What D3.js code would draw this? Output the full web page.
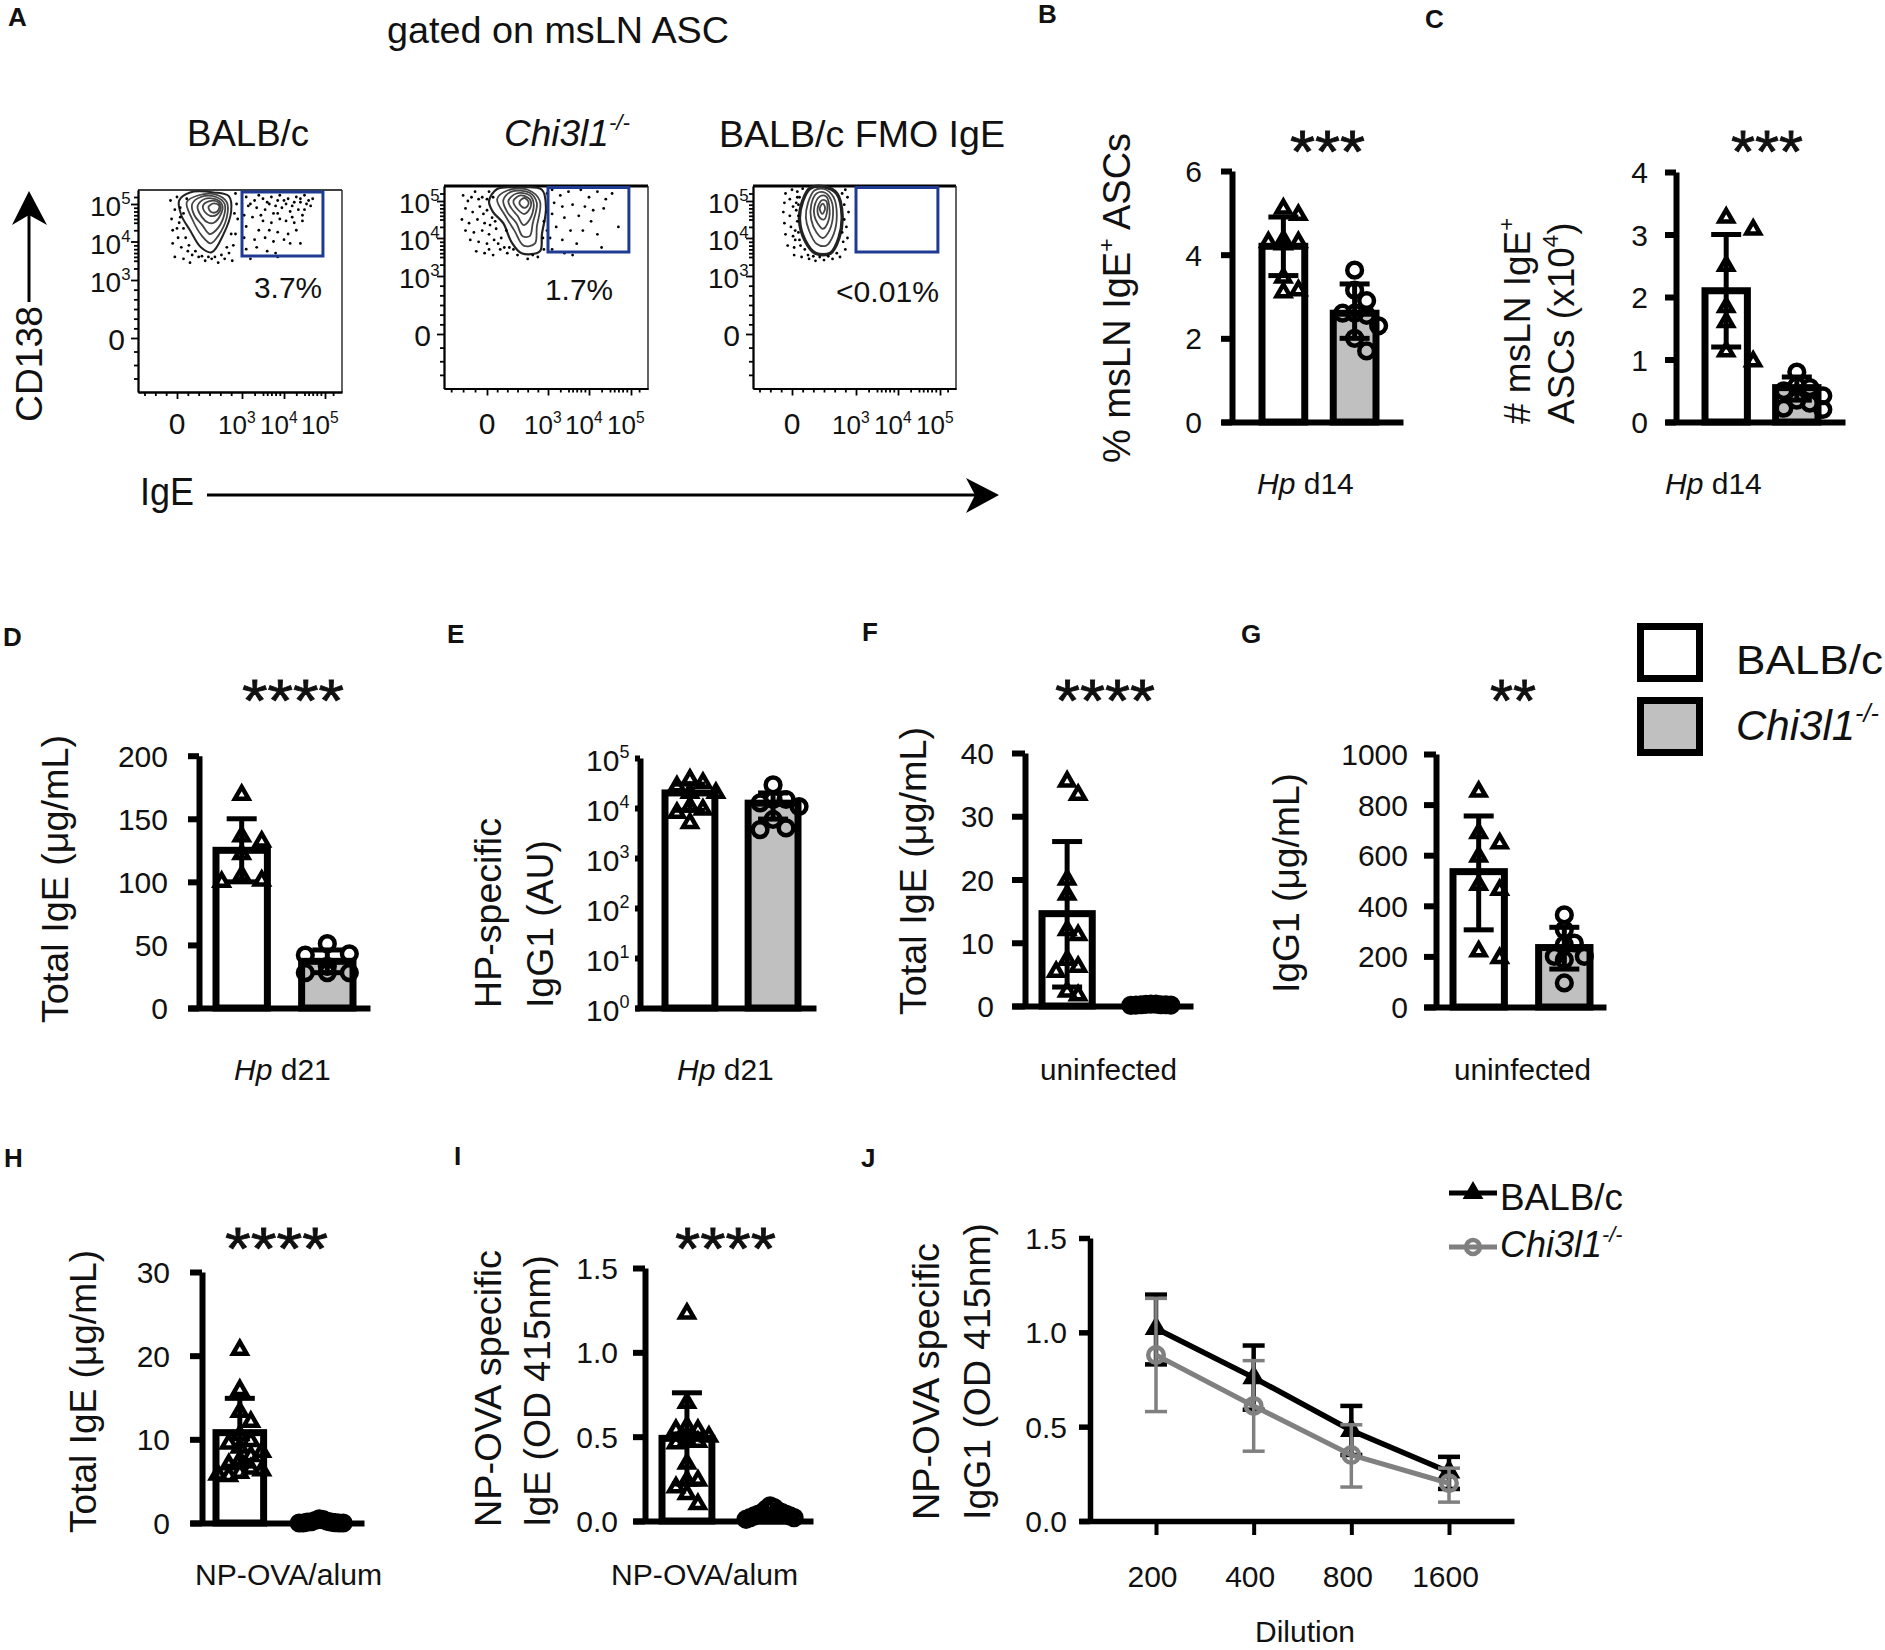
<!DOCTYPE html>
<html><head><meta charset="utf-8">
<script src="https://cdn.jsdelivr.net/npm/d3@7"></script>
<style>html,body{margin:0;background:#fff;overflow:hidden}text{font-family:"Liberation Sans",Arial,sans-serif;fill:#111}</style>
</head><body><svg id="c" width="1885" height="1650" viewBox="0 0 1885 1650"></svg>
<script>
// ---------- data ----------
const groups=["BALB/c","Chi3l1-/-"];
const bMean=[4.2,2.6], bErr=[[3.5,4.9],[2.0,3.3]];
const bTri=[5.1,4.95,4.35,4.3,4.25,4.3,3.45,3.15,3.1];
const bCir=[3.63,3.15,2.9,2.6,2.6,2.55,2.3,2.0,1.7];
const cMean=[2.1,0.55], cErr=[[1.2,3.0],[0.35,0.72]];
const cTri=[3.27,3.08,2.5,1.84,1.6,1.13,0.97];
const cCir=[0.8,0.58,0.55,0.5,0.42,0.35,0.3,0.22,0.2];
const dMean=[125,37], dErr=[[100,150],[28,46]];
const dTri=[169,136,132,122,105,101,100];
const dCir=[51,43,42,33,28,28,28];
const eMean=[20000,12500], eErr=[[9000,30000],[6000,20000]];
const eTri=[37000,32000,27000,20000,20000,10700,9300,8000,5000];
const eCir=[29000,14800,14800,12600,10700,5900,4000,3700];
const fMean=[14.6,0.2], fErr=[[3,26],[0.1,0.3]];
const fTri=[35.5,33.4,20,17.6,12,11.2,7.3,6.2,5.4,2.3,1.7];
const fCir=[0.3,0.3,0.25,0.2,0.2,0.2,0.15,0.15,0.1];
const gMean=[535,235], gErr=[[305,755],[150,315]];
const gTri=[851,687,647,595,483,463,220,193];
const gCir=[364,305,253,246,200,200,187,95];
const hMean=[10.8,0.2], hErr=[[6.8,14.9],[0.05,0.4]];
const hTri=[20.7,15.9,13.3,12.1,10.5,9.8,9.5,9,8.5,8,7.5,7,6.5,6.3,6,5.8,5.6];
const hCir=[0.5,0.4,0.3,0.2,0.15,0.1,0.1,0.05,0,0,0,0];
const iMean=[0.49,0.04], iErr=[[0.22,0.76],[0.02,0.07]];
const iTri=[1.23,0.7,0.56,0.54,0.54,0.5,0.48,0.47,0.46,0.34,0.24,0.24,0.2,0.16,0.1];
const iCir=[0.09,0.08,0.07,0.06,0.05,0.05,0.04,0.04,0.03,0.03,0.02,0.02,0.01];
const dilutions=["200","400","800","1600"];
const jBalb=[1.02,0.76,0.48,0.26], jBalbLo=[0.83,0.59,0.35,0.17], jBalbHi=[1.2,0.93,0.61,0.34];
const jChi=[0.88,0.61,0.35,0.2], jChiLo=[0.58,0.37,0.18,0.1], jChiHi=[1.18,0.85,0.51,0.28];
const flowPercents=["3.7%","1.7%","<0.01%"];
// flow events: [IgE decade, CD138 decade]
const flow1Gate=[[3.1,5.2],[3.3,5.1],[3.4,5.25],[3.6,5.05],[3.7,5.2],[3.8,4.95],[3.9,5.25],[4.0,5.1],[4.1,5.15],[4.2,4.95],[4.3,5.2],[4.4,5.05],[4.5,5.25],[4.6,5.1],[4.65,4.95],[4.5,4.85],[4.35,4.85],[4.15,4.8],[3.95,4.9],[3.75,4.75],[3.55,4.85],[3.35,4.9],[3.15,4.95],[3.05,4.7],[3.25,4.65],[3.5,4.55],[3.7,4.5],[3.9,4.6],[4.05,4.55],[4.25,4.5],[4.45,4.55],[3.1,4.4],[3.4,4.3],[3.65,4.3],[3.85,4.25],[4.1,4.2],[4.3,4.3],[3.05,4.1],[3.3,4.05],[3.55,4.1],[3.75,4.0],[4.0,4.05],[4.15,3.95],[4.4,3.95],[3.1,3.8],[3.35,3.85],[3.6,3.75],[3.8,3.7],[3.85,3.6],[3.2,3.55],
[3.2,5.0],[3.5,5.15],[3.65,5.0],[3.85,5.1],[4.05,5.0],[4.25,5.05],[4.4,5.15],[4.55,5.0],[4.7,5.15],[3.45,4.7],[3.85,4.75],[4.2,4.65],[4.45,4.7]];
const flow1Left=[[-0.3,5.1],[0,5.2],[-0.1,4.85],[0.15,4.9],[-0.25,4.6],[0.1,4.5],[0.3,4.35],[-0.2,4.3],[0.05,4.1],[0.4,4.1],[-0.2,3.95],[0.2,3.85],[0.55,3.9],[-0.1,3.6],[0.3,3.55],[0.7,3.65],[1.0,3.6],[1.3,3.5],[1.6,3.55],[1.9,3.45],[2.2,3.55],[2.4,3.7],[2.6,3.9],[2.7,4.2],[2.8,4.6],[2.75,5.0],[2.7,5.3],[0.45,5.15],[0.6,3.45],[2.55,3.5],
[0.5,3.75],[0.85,3.75],[1.15,3.62],[1.45,3.6],[1.75,3.6],[2.05,3.65],[2.3,3.85],[2.5,4.2],[2.65,4.75],[0.15,4.65],[0.3,4.75],[0,4.35]];
const flow2Gate=[[3.1,5.3],[3.3,5.15],[3.5,5.25],[3.8,5.3],[4.0,5.1],[4.2,5.25],[4.4,5.05],[4.55,5.2],[3.15,4.95],[3.35,4.85],[3.6,4.9],[3.9,4.85],[4.1,4.75],[4.35,4.8],[3.1,4.65],[3.4,4.55],[3.75,4.6],[4.05,4.45],[4.7,4.3],[3.2,4.3],[3.55,4.2],[3.85,4.2],[4.2,4.1],[3.05,4.0],[3.35,3.95],[3.7,3.85],[4.3,3.75],[3.1,3.7],[3.4,3.6],[3.6,3.55]];
const flow2Left=[[-1.0,5.15],[-0.8,5.0],[-0.5,5.25],[-0.2,5.1],[0.1,5.25],[-0.9,4.8],[-0.6,4.7],[-0.3,4.85],[0,4.75],[-1.05,4.5],[-0.75,4.4],[-0.4,4.5],[-0.1,4.4],[0.25,4.55],[-0.9,4.2],[-0.55,4.15],[-0.2,4.2],[0.1,4.1],[0.45,4.25],[-0.7,3.95],[-0.35,3.9],[0,3.85],[0.35,3.95],[0.7,4.0],[-0.45,3.65],[-0.1,3.6],[0.3,3.55],[0.65,3.7],[1.0,3.6],[1.3,3.7],[2.0,3.45],[2.5,3.5],[2.8,3.7],[2.95,4.2],[2.95,4.7],[2.95,5.2],
[-0.65,5.1],[-0.35,5.05],[0,5.05],[0.3,5.1],[-0.15,4.65],[0.15,4.35],[0.4,4.45],[0.55,3.85],[0.85,3.75],[0.1,3.7],[0.95,4.2],[1.1,3.75],[1.5,3.55],[2.25,3.55],[2.75,4.0],[2.8,4.45]];
const flow3Left=[[-0.3,5.2],[0,5.3],[0.25,5.25],[-0.35,4.95],[-0.1,5.05],[0.2,4.95],[-0.4,4.7],[-0.1,4.6],[0.2,4.75],[-0.35,4.4],[-0.05,4.3],[0.25,4.45],[-0.3,4.1],[0.05,4.05],[0.3,4.15],[-0.2,3.8],[0.1,3.75],[0.4,3.8],[0.1,3.55],[0.45,3.5],[0.8,3.45],[1.1,3.4],[1.5,3.42],[1.9,3.45],[2.25,3.5],[2.5,3.7],[2.6,4.0],[2.55,4.3],[2.65,4.7],[2.6,5.1],[2.5,5.3],[0.5,5.33],[0.6,3.7],[2.4,3.9],
[0.05,4.85],[0.3,4.6],[0.3,4.9],[0.35,5.1],[0.15,4.2],[0.35,3.95],[0.75,3.55],[1.0,3.52],[1.3,3.5],[1.7,3.52],[2.1,3.6],[2.35,4.15],[2.45,4.5],[2.45,4.9],[2.35,5.2],[0.15,3.95],[0.25,5.1]];
const rings1=[
[[.1,5.1],[.6,5.33],[1.7,5.33],[2.4,5.22],[2.5,4.8],[2.15,4.2],[1.6,3.72],[1.1,3.85],[.6,4.3],[.2,4.7]],
[[.45,5.05],[1,5.25],[1.8,5.27],[2.3,5.05],[2.3,4.65],[1.9,4.15],[1.55,3.95],[1.15,4.15],[.7,4.6]],
[[.7,5],[1.1,5.2],[1.8,5.2],[2.2,5],[2.15,4.65],[1.8,4.3],[1.5,4.2],[1.15,4.45],[.8,4.7]],
[[.95,4.95],[1.3,5.15],[1.85,5.12],[2.1,4.95],[2,4.7],[1.7,4.5],[1.45,4.5],[1.15,4.65]],
[[1.2,4.95],[1.5,5.08],[1.9,5.05],[2.02,4.9],[1.85,4.72],[1.55,4.68],[1.3,4.78]],
[[1.45,4.92],[1.7,5.02],[1.95,4.95],[1.85,4.8],[1.6,4.78]]];
const rings2=[
[[.1,5],[.5,5.32],[1.5,5.36],[2.7,5.3],[2.9,4.8],[2.7,4.1],[2.6,3.65],[1.7,3.6],[1.2,3.9],[.8,4.4],[.3,4.7]],
[[.5,5.05],[1,5.28],[2,5.3],[2.6,5],[2.45,4.3],[2.35,3.85],[1.8,3.8],[1.35,4.2],[.9,4.6]],
[[.8,5.02],[1.2,5.25],[2.1,5.22],[2.45,4.95],[2.25,4.4],[2.1,4.05],[1.75,4.05],[1.45,4.4],[1,4.7]],
[[1.05,5],[1.45,5.2],[2.1,5.15],[2.3,4.9],[2.1,4.5],[1.8,4.35],[1.5,4.6],[1.2,4.8]],
[[1.3,5],[1.65,5.15],[2.1,5.05],[2.15,4.85],[1.85,4.65],[1.55,4.75]],
[[1.6,4.98],[1.85,5.08],[2.05,4.95],[1.9,4.82],[1.7,4.85]]];
const rings3=[
[[.5,5],[.85,5.34],[1.5,5.38],[2.1,5.2],[2.35,4.6],[2.2,4],[1.8,3.6],[1.1,3.6],[.6,3.95],[.35,4.5]],
[[.75,4.95],[1.05,5.28],[1.5,5.32],[1.95,5.1],[2.1,4.6],[1.95,4.1],[1.6,3.8],[1.15,3.85],[.8,4.2],[.65,4.55]],
[[.9,4.9],[1.15,5.2],[1.55,5.22],[1.85,5],[1.92,4.6],[1.75,4.2],[1.45,4],[1.15,4.15],[.9,4.5]],
[[1.05,4.85],[1.3,5.12],[1.6,5.12],[1.75,4.85],[1.7,4.45],[1.45,4.25],[1.2,4.4],[1.05,4.6]],
[[1.2,4.8],[1.4,5.02],[1.6,5],[1.65,4.75],[1.5,4.5],[1.3,4.55]],
[[1.3,4.8],[1.45,4.93],[1.55,4.8],[1.42,4.65]]];
const flowMajor=[0,3,4,5];
const flowMinor=[-1.5,-1,-.5,.5,1,1.5,2,2.5,3.3,3.5,3.6,3.7,3.8,3.9,4.3,4.5,4.6,4.7,4.8,4.9,5.2];

// ---------- helpers ----------
const svg=d3.select("#c");
function T(x,y,parts,o={}){
  const s=o.size||30, t=svg.append("text").attr("font-size",s).attr("text-anchor",o.anchor||"start");
  t.attr("transform",`translate(${x},${y})`+(o.rot?` rotate(${o.rot})`:""));
  if(o.weight)t.attr("font-weight",o.weight);
  if(o.italic)t.attr("font-style","italic");
  if(o.stroke)t.attr("stroke","#111").attr("stroke-width",o.stroke);
  if(o.len)t.attr("textLength",o.len).attr("lengthAdjust","spacingAndGlyphs");
  if(typeof parts==="string")t.text(parts);
  else{let pend=0;parts.forEach(p=>{
    const sp=t.append("tspan").text(p.t);
    if(p.i)sp.attr("font-style","italic");
    if(p.sup){sp.attr("font-size",s*.6).attr("dy",-s*.42);pend=s*.42;}
    else if(pend){sp.attr("dy",pend);pend=0;}
  });}
  return t;
}
const chi=[{t:"Chi3l1",i:1},{t:"-/-",i:1,sup:1}];
const pow=e=>[{t:"10"},{t:String(e),sup:1}];
const letter=(x,y,s)=>T(x,y,s,{size:26,weight:"bold"});
const stars=(x,y,s,len)=>T(x,y,s,{size:60,len,stroke:.8});
const triPath=d3.symbol(d3.symbolTriangle,80)();
const cirPath=d3.symbol(d3.symbolCircle,170)();
function swarm(vals,y,step,gap,max){
  const placed=[], offs=[0];
  for(let k=1;k*step<=max+.01;k++)offs.push(k*step,-k*step);
  [...vals].sort((a,b)=>b-a).forEach(v=>{
    const py=y(v);
    let best=0,bestN=1e9;
    offs.forEach(x=>{
      const n=placed.filter(q=>Math.abs(q.x-x)<step-.01&&Math.abs(q.y-py)<gap).length;
      if(n<bestN){bestN=n;best=x;}
    });
    placed.push({x:best,y:py});
  });
  return placed;
}
function barPanel(p){
  const g=svg.append("g");
  const y=(p.log?d3.scaleLog():d3.scaleLinear()).domain(p.dom).range([p.y0,p.yT]);
  const x=d3.scaleBand().domain(groups).range(p.bars).paddingInner(.4);
  const axisX=d3.scaleLinear().domain([0,1]).range(p.base);
  const ax=d3.axisLeft(y).tickValues(p.ticks).tickSize(p.ax-p.base[0]).tickSizeOuter(0);
  g.selectAll("rect.bar").data(groups).join("rect").attr("class","bar")
    .attr("x",d=>x(d)).attr("width",x.bandwidth())
    .attr("y",(d,i)=>y(p.mean[i])).attr("height",(d,i)=>p.y0-y(p.mean[i]))
    .attr("fill",(d,i)=>i?"#c0c0c0":"#fff").attr("stroke","#000").attr("stroke-width",7);
  [[p.tri,triPath,0],[p.cir,cirPath,1]].forEach(([vals,path,i])=>{
    const cx=x(groups[i])+x.bandwidth()/2, s=p.sw[i];
    g.append("g").selectAll("path").data(swarm(vals,y,s[0],s[1],s[2])).join("path")
      .attr("d",path).attr("transform",d=>`translate(${cx+d.x},${d.y})`)
      .attr("fill","none").attr("stroke","#000").attr("stroke-width",4.5).attr("stroke-linejoin","miter");
  });
  p.err.forEach((e,i)=>{
    const cx=x(groups[i])+x.bandwidth()/2, cap=15;
    const eb=g.append("g").attr("stroke","#000").attr("stroke-width",5);
    eb.append("line").attr("x1",cx).attr("x2",cx).attr("y1",y(e[0])).attr("y2",y(e[1]));
    e.forEach(v=>eb.append("line").attr("x1",cx-cap).attr("x2",cx+cap).attr("y1",y(v)).attr("y2",y(v)));
  });
  const yg=g.append("g").attr("transform",`translate(${p.ax},0)`).call(ax);
  yg.selectAll("text").remove();
  yg.selectAll("path,line").attr("stroke","#000").attr("stroke-width",6);
  const bg=g.append("g").attr("transform",`translate(0,${p.y0})`).call(d3.axisBottom(axisX).tickValues([]).tickSizeOuter(0));
  bg.selectAll("path").attr("stroke","#000").attr("stroke-width",6);
  p.ticks.forEach(v=>{
    if(p.log) T(p.tr-32,y(v)+13,pow(Math.round(Math.log10(v))),{size:30});
    else T(p.tr,y(v)+11,p.fmt?p.fmt(v):String(v),{size:30,anchor:"end"});
  });
}

// ---------- panel A ----------
const plotLayouts=[
 {xr:[138,177,242,284,325,342],yr:[392,338,280,241.5,204,190],gate:[192,256],top:1.6,edge:2,lab:17},
 {xr:[444,487,548,589,631,648],yr:[388.5,334,276,238,201,186],gate:[187.5,252],top:3,edge:2.2,lab:14},
 {xr:[753,792,856,898,940,956],yr:[388.5,334,276,238,201,186],gate:[187.5,252],top:3,edge:3.4,lab:14}];
const flowEvents=[[flow1Left,flow1Gate],[flow2Left,flow2Gate],[flow3Left,[]]];
const flowRings=[rings1,rings2,rings3];
plotLayouts.forEach((L,i)=>{
  const g=svg.append("g");
  const x=d3.scaleLinear().domain([-1.8,0,3,4,5,5.42]).range(L.xr);
  const y=d3.scaleLinear().domain([-2,0,3,4,5,5.4]).range(L.yr);
  const [xa,,,,,xb]=L.xr,[yb,,,,,ya]=L.yr;
  g.append("line").attr("x1",xa).attr("x2",xb).attr("y1",ya).attr("y2",ya).attr("stroke","#000").attr("stroke-width",L.top);
  g.append("line").attr("x1",xb).attr("x2",xb).attr("y1",ya).attr("y2",yb).attr("stroke","#222").attr("stroke-width",1.4);
  [[flowMajor,7],[flowMinor,4]].forEach(([vals,len])=>{
    const l=g.append("g").attr("transform",`translate(${xa},0)`).call(d3.axisLeft(y).tickValues(vals).tickSize(len).tickSizeOuter(0).tickFormat(""));
    const b=g.append("g").attr("transform",`translate(0,${yb})`).call(d3.axisBottom(x).tickValues(vals.filter(v=>v>-1.8)).tickSize(len).tickSizeOuter(0).tickFormat(""));
    [l,b].forEach(a=>a.selectAll("path,line").attr("stroke","#000").attr("stroke-width",1.8));
  });
  const line=d3.line().x(d=>x(d[0])).y(d=>y(d[1])).curve(d3.curveCatmullRomClosed);
  g.selectAll("path.r").data(flowRings[i]).join("path").attr("class","r").attr("d",line).attr("fill","none")
    .attr("stroke",(d,k)=>k?"#444":"#222").attr("stroke-width",(d,k)=>k?1.8:L.edge);
  const ev=[...flowEvents[i][0],...flowEvents[i][1]];
  g.selectAll("circle").data(ev).join("circle").attr("cx",d=>x(d[0])).attr("cy",d=>y(d[1])).attr("r",1.4).attr("fill","#000");
  g.append("rect").attr("x",x(3)).attr("y",L.gate[0]).attr("width",x(4.95)-x(3)).attr("height",L.gate[1]-L.gate[0])
    .attr("fill","none").attr("stroke","#1f3a93").attr("stroke-width",3);
  [5,4,3].forEach(e=>T(xa-L.lab-31,y(e)+12,pow(e),{size:28}));
  T(xa-13,y(0)+12,"0",{size:30,anchor:"end"});
  const by=434;
  T(x(0),by,"0",{size:30,anchor:"middle"});
  [3,4,5].forEach(e=>T(x(e)-24,by,pow(e),{size:26}));
});
T(387,43,"gated on msLN ASC",{size:37,len:342});
T(187,146,"BALB/c",{size:37,len:122});
T(504,146,chi,{size:37});
T(719,147,"BALB/c FMO IgE",{size:37,len:286});
T(254,298,flowPercents[0],{size:29,len:68});
T(545,300,flowPercents[1],{size:29,len:68});
T(836,302,flowPercents[2],{size:29,len:103});
T(42,422,"CD138",{size:37,rot:-90,len:116});
T(140,505,"IgE",{size:38,len:54});
const marks=svg.append("g");
marks.append("line").attr("x1",29).attr("x2",29).attr("y1",302).attr("y2",215).attr("stroke","#000").attr("stroke-width",3);
marks.append("path").attr("d","M29,191 L47,225 L29,215 L12,225 Z").attr("fill","#000");
marks.append("line").attr("x1",207).attr("x2",975).attr("y1",495).attr("y2",495).attr("stroke","#000").attr("stroke-width",3);
marks.append("path").attr("d","M999,495 L966,478 L975,495 L966,513 Z").attr("fill","#000");
letter(8,26,"A");letter(1038,23,"B");letter(1425,28,"C");letter(3,646,"D");letter(447,643,"E");
letter(862,641,"F");letter(1241,643,"G");letter(4,1167,"H");letter(454,1165,"I");letter(861,1167,"J");

// ---------- bar panels ----------
barPanel({dom:[0,6],y0:422,yT:171,ax:1232,tr:1202,base:[1221,1403],bars:[1262,1376],mean:bMean,err:bErr,tri:bTri,cir:bCir,ticks:[0,2,4,6],sw:[[15,14,24],[12,14,24]]});
T(1130,463,[{t:"% msLN IgE"},{t:"+",sup:1},{t:" ASCs"}],{size:38,rot:-90});
stars(1290,172,"***",75);
T(1257,494,[{t:"Hp",i:1},{t:" d14"}],{size:30});

barPanel({dom:[0,4],y0:422,yT:172,ax:1676,tr:1648,base:[1665,1845],bars:[1705,1818],mean:cMean,err:cErr,tri:cTri,cir:cCir,ticks:[0,1,2,3,4],sw:[[27,14,27],[13,13,26]]});
T(1530,424,[{t:"# msLN IgE"},{t:"+",sup:1}],{size:37,rot:-90});
T(1574,424,[{t:"ASCs (x10"},{t:"4",sup:1},{t:")"}],{size:37,rot:-90});
stars(1731,172,"***",72);
T(1665,494,[{t:"Hp",i:1},{t:" d14"}],{size:30});

barPanel({dom:[0,200],y0:1008,yT:755.7,ax:199,tr:168,base:[188,370],bars:[216,353],mean:dMean,err:dErr,tri:dTri,cir:dCir,ticks:[0,50,100,150,200],sw:[[20,14,22],[22,13,22]]});
T(68,1023,"Total IgE (μg/mL)",{size:37,rot:-90,len:288});
stars(242,721,"****",102);
T(234,1080,[{t:"Hp",i:1},{t:" d21"}],{size:30});

barPanel({log:1,dom:[1,1e5],y0:1008,yT:758,ax:640,tr:618,base:[635,816],bars:[665,798],mean:eMean,err:eErr,tri:eTri,cir:eCir,ticks:[1,10,100,1000,1e4,1e5],sw:[[13,12,26],[13,12,26]]});
T(501,1008,"HP-specific",{size:36,rot:-90,len:190});
T(553,1008,"IgG1 (AU)",{size:36,rot:-90,len:168});
T(677,1080,[{t:"Hp",i:1},{t:" d21"}],{size:30});

barPanel({dom:[0,40],y0:1006,yT:753,ax:1025,tr:994,base:[1012,1193],bars:[1042,1176],mean:fMean,err:fErr,tri:fTri,cir:fCir,ticks:[0,10,20,30,40],sw:[[11,14,22],[5,30,20]]});
T(926,1015,"Total IgE (μg/mL)",{size:37,rot:-90,len:288});
stars(1055,721,"****",100);
T(1040,1080,"uninfected",{size:29,len:137});

barPanel({dom:[0,1000],y0:1007,yT:754,ax:1436,tr:1408,base:[1424,1606],bars:[1453,1590],mean:gMean,err:gErr,tri:gTri,cir:gCir,ticks:[0,200,400,600,800,1000],sw:[[21,14,21],[10,14,20]]});
T(1299,993,"IgG1 (μg/mL)",{size:36,rot:-90,len:220});
stars(1490,721,"**",46);
T(1454,1080,"uninfected",{size:29,len:137});

svg.append("g").selectAll("rect").data(groups).join("rect")
  .attr("x",1640.5).attr("width",59).attr("y",(d,i)=>i?700.5:626.5).attr("height",52)
  .attr("fill",(d,i)=>i?"#c0c0c0":"#fff").attr("stroke","#000").attr("stroke-width",7);
T(1736,674,"BALB/c",{size:41,len:147});
T(1736,740,chi,{size:42});

barPanel({dom:[0,30],y0:1523,yT:1272,ax:202,tr:170,base:[190,364],bars:[216,343],mean:hMean,err:hErr,tri:hTri,cir:hCir,ticks:[0,10,20,30],sw:[[11,11,22],[4,30,24]]});
T(96,1533,"Total IgE (μg/mL)",{size:36,rot:-90,len:283});
stars(225,1269,"****",103);
T(195,1585,"NP-OVA/alum",{size:29,len:187});

barPanel({dom:[0,1.5],y0:1521,yT:1268,ax:645,tr:618,base:[633,813],bars:[662,795],mean:iMean,err:iErr,tri:iTri,cir:iCir,ticks:[0,.5,1,1.5],fmt:d3.format(".1f"),sw:[[11,11,22],[4,30,24]]});
T(501,1527,"NP-OVA specific",{size:36,rot:-90,len:277});
T(550,1527,"IgE (OD 415nm)",{size:36,rot:-90,len:272});
stars(675,1269,"****",101);
T(611,1585,"NP-OVA/alum",{size:29,len:187});

// ---------- panel J ----------
(function(){
  const g=svg.append("g");
  const x=d3.scalePoint().domain(dilutions).range([1156,1449]);
  const y=d3.scaleLinear().domain([0,1.5]).range([1521,1238]);
  const base=d3.scaleLinear().domain([0,1]).range([1079,1514]);
  const line=d3.line().x((d,i)=>x(dilutions[i])).y(d=>y(d));
  const series=[[jBalb,jBalbLo,jBalbHi,"#000"],[jChi,jChiLo,jChiHi,"#808080"]];
  series.forEach(([m,lo,hi,c],k)=>{
    dilutions.forEach((d,i)=>{
      const e=g.append("g").attr("stroke",c).attr("stroke-width",k?3.5:4.5);
      e.append("line").attr("x1",x(d)).attr("x2",x(d)).attr("y1",y(lo[i])).attr("y2",y(hi[i]));
      [lo[i],hi[i]].forEach(v=>e.append("line").attr("x1",x(d)-11).attr("x2",x(d)+11).attr("y1",y(v)).attr("y2",y(v)));
    });
    g.append("path").attr("d",line(m)).attr("fill","none").attr("stroke",c).attr("stroke-width",k?5:5.5);
    g.selectAll("path.m"+k).data(m).join("path").attr("class","m"+k)
      .attr("d",k?d3.symbol(d3.symbolCircle,190)():d3.symbol(d3.symbolTriangle,160)())
      .attr("transform",(d,i)=>`translate(${x(dilutions[i])},${y(d)})`)
      .attr("fill",k?"none":"#000").attr("stroke",c).attr("stroke-width",k?4.5:2);
  });
  const ya=g.append("g").attr("transform","translate(1090,0)").call(d3.axisLeft(y).tickValues([0,.5,1,1.5]).tickSize(11).tickSizeOuter(0).tickFormat(""));
  ya.selectAll("path,line").attr("stroke","#000").attr("stroke-width",5.5);
  const bl=g.append("g").attr("transform","translate(0,1521)").call(d3.axisBottom(base).tickValues([]).tickSizeOuter(0));
  bl.selectAll("path").attr("stroke","#000").attr("stroke-width",5.5);
  const xa=g.append("g").attr("transform","translate(0,1521)").call(d3.axisBottom(x).tickSize(14).tickSizeOuter(0).tickPadding(31));
  xa.select(".domain").remove();
  xa.selectAll("line").attr("stroke","#000").attr("stroke-width",4);
  xa.selectAll("text").attr("font-size",30).attr("dx",-4).attr("font-family","Liberation Sans");
  [0,.5,1,1.5].forEach(v=>T(1067,y(v)+11,d3.format(".1f")(v),{size:30,anchor:"end"}));
  T(939,1520,"NP-OVA specific",{size:36,rot:-90,len:277});
  T(990,1520,"IgG1 (OD 415nm)",{size:36,rot:-90,len:297});
  T(1305,1642,"Dilution",{size:30,anchor:"middle"});
  const lg=svg.append("g");
  [[1193,"#000"],[1247,"#808080"]].forEach(([ly,c],k)=>{
    lg.append("line").attr("x1",1449).attr("x2",1497).attr("y1",ly).attr("y2",ly).attr("stroke",c).attr("stroke-width",5);
    lg.append("path").attr("d",k?d3.symbol(d3.symbolCircle,150)():d3.symbol(d3.symbolTriangle,130)())
      .attr("transform",`translate(1473,${ly})`).attr("fill",k?"none":"#000").attr("stroke",c).attr("stroke-width",k?4.5:2);
  });
  T(1500,1210,"BALB/c",{size:37,len:123});
  T(1500,1257,chi,{size:36});
})();
</script></body></html>
